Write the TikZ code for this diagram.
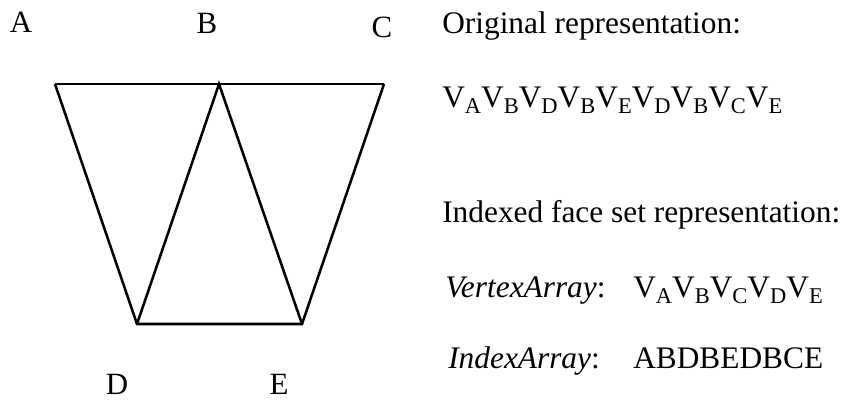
\documentclass[tikz,border=0pt]{standalone}
\usepackage{fontspec}
\setmainfont{Liberation Serif}
\usetikzlibrary{positioning}

\newcommand{\vsub}[1]{V\raisebox{-3.6pt}{\fontsize{16}{18}\selectfont #1}}

\begin{document}
\begin{tikzpicture}[
    x=0.025cm, y=-0.025cm,
    edge/.style={line width=1.8pt, line join=miter},
    lab/.style={font=\fontsize{22}{26}\selectfont, inner sep=0pt},
    txt/.style={font=\fontsize{22.3}{26}\selectfont, inner sep=0pt, anchor=base west},
]
\useasboundingbox (0,0) rectangle (849,400);

% mesh corners
\coordinate (A) at (55,84);
\coordinate (B) at (219,84);
\coordinate (C) at (384,84);
\coordinate (D) at (137,324);
\coordinate (E) at (302,324);

\draw[edge] (A) -- (C);
\draw[edge] (A) -- (D) -- (E) -- (C);
\draw[edge] (D) -- (B) -- (E);

% vertex names
\node[lab] (labA) at (21,22) {A};
\node[lab] (labB) at (207,23) {B};
\node[lab] (labC) at (382,27) {C};
\node[lab] (labD) at (117,384) {D};
\node[lab] (labE) at (279,384) {E};

% the two representations
\node[txt] (orig) at (442,34) {Original representation:};
\node[txt] (origseq) at (442,108)
    {\vsub{A}\vsub{B}\vsub{D}\vsub{B}\vsub{E}\vsub{D}\vsub{B}\vsub{C}\vsub{E}};
\node[txt] (ifs) at (442,223) {Indexed face set representation:};
\node[txt] (va) at (445,298) {\textit{VertexArray}:};
\node[txt] (vaseq) at (633,298) {\vsub{A}\vsub{B}\vsub{C}\vsub{D}\vsub{E}};
\node[txt] (ia) at (448,368) {\textit{IndexArray}:};
\node[txt] (iaseq) at (633,368) {ABDBEDBCE};
\end{tikzpicture}
\end{document}
